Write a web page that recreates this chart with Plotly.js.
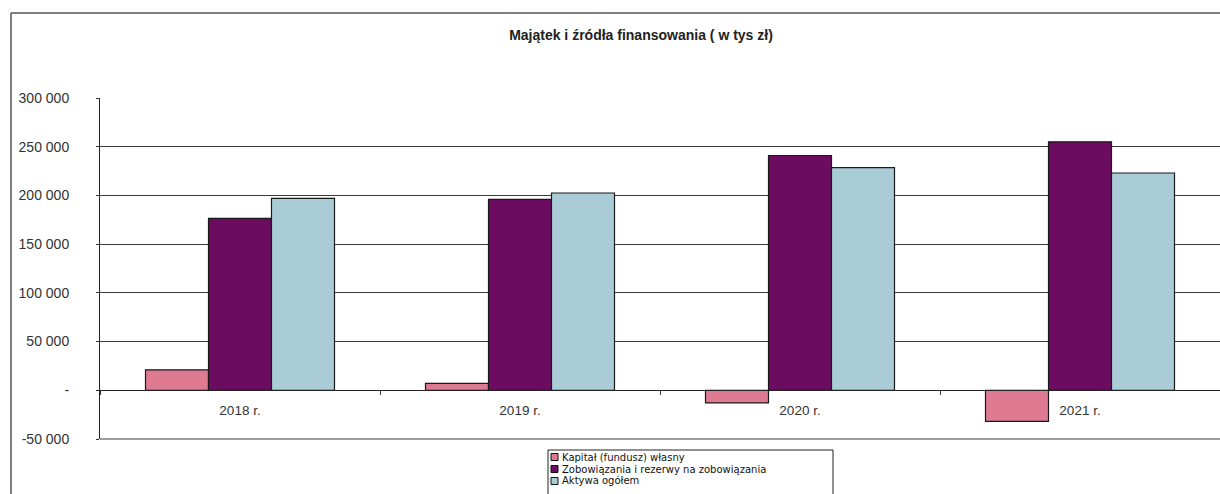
<!DOCTYPE html>
<html>
<head>
<meta charset="utf-8">
<script src="https://cdn.plot.ly/plotly-3.0.1.min.js"></script>
<style>
  html, body { margin: 0; padding: 0; background: #ffffff; }
  #chart { width: 1220px; height: 494px; }
</style>
</head>
<body>
<div id="chart"></div>
<script>
// ---- data ----
var categories = ["2018 r.", "2019 r.", "2020 r.", "2021 r."];
var kapitalWlasny = [21000, 7000, -13000, -32000];
var zobowiazania = [176500, 196000, 241000, 255000];
var aktywaOgolem = [197000, 202500, 228500, 223000];

var seriesNames = ["Kapitał (fundusz) własny", "Zobowiązania i rezerwy na zobowiązania", "Aktywa ogółem"];
var yTickValues = [-50000, 0, 50000, 100000, 150000, 200000, 250000, 300000];
var yTickLabels = ["-50 000", "-", "50 000", "100 000", "150 000", "200 000", "250 000", "300 000"];
var chartTitle = "Majątek i źródła finansowania ( w tys zł)";

// ---- geometry & styles ----
var W = 1220, H = 494;
var M = { l: 100, r: 0, t: 98, b: 55 };
var plotW = W - M.l - M.r, plotH = H - M.t - M.b;
function px2x(px) { return (px - M.l) / plotW; }
function px2y(py) { return (H - M.b - py) / plotH; }

var colors = ["#df7a93", "#6c0c60", "#a9ccd7"];
var yRange = [-50000, 300000];
var zeroPos = (0 - yRange[0]) / (yRange[1] - yRange[0]);
var fontFam = "Arial, 'Liberation Sans', Helvetica, sans-serif";
var legendFam = "'DejaVu Sans', Arial, sans-serif";

var seriesValues = [kapitalWlasny, zobowiazania, aktywaOgolem];
var traces = seriesValues.map(function (vals, i) {
  return {
    type: "bar",
    name: seriesNames[i],
    x: categories,
    y: vals,
    marker: { color: colors[i], line: { color: "#1a1a1a", width: 1.2 } },
    hoverinfo: "x+y+name",
    showlegend: false
  };
});

// compact legend drawn as box + swatches + labels
var legendBox = { left: 548, top: 450, right: 833, bottom: 520 };
var legendRows = [457, 469, 481];
var shapes = [
  { type: "line", xref: "paper", yref: "paper",
    x0: px2x(11), x1: px2x(W + 20), y0: px2y(13), y1: px2y(13),
    line: { color: "#555555", width: 1.5 } },
  { type: "line", xref: "paper", yref: "paper",
    x0: px2x(11), x1: px2x(11), y0: px2y(13), y1: px2y(H + 20),
    line: { color: "#555555", width: 1.5 } },
  { type: "rect", xref: "paper", yref: "paper",
    x0: px2x(legendBox.left), x1: px2x(legendBox.right),
    y0: px2y(legendBox.bottom), y1: px2y(legendBox.top),
    line: { color: "#222222", width: 1 }, fillcolor: "#ffffff" },
  { type: "line", xref: "paper", yref: "paper",
    x0: 0, x1: 1, y0: 0, y1: 0,
    line: { color: "#3a3a3a", width: 1 } }
];
var annotations = [];
legendRows.forEach(function (cy, i) {
  shapes.push({ type: "rect", xref: "paper", yref: "paper",
    x0: px2x(551), x1: px2x(558), y0: px2y(cy + 3.5), y1: px2y(cy - 3.5),
    line: { color: "#111111", width: 1 }, fillcolor: colors[i] });
  annotations.push({ xref: "paper", yref: "paper",
    x: px2x(561), y: px2y(cy), xanchor: "left", yanchor: "middle",
    text: seriesNames[i], showarrow: false, borderpad: 0,
    font: { family: legendFam, size: 10, color: "#111111" } });
});

var layout = {
  width: W,
  height: H,
  margin: { l: M.l, r: M.r, t: M.t, b: M.b, autoexpand: false },
  paper_bgcolor: "#ffffff",
  plot_bgcolor: "#ffffff",
  font: { family: fontFam, size: 13, color: "#333333" },
  barmode: "group",
  bargap: 0.325,
  bargroupgap: 0,
  showlegend: false,
  title: {
    text: "<b>" + chartTitle + "</b>",
    font: { family: fontFam, size: 14, color: "#222222" },
    x: px2x(641), xref: "paper", xanchor: "center",
    y: 1 - 35 / H, yref: "container", yanchor: "middle"
  },
  xaxis: {
    type: "category",
    range: [-0.5, 3.5],
    anchor: "free",
    position: zeroPos,
    showline: true,
    linecolor: "#222222",
    linewidth: 1,
    showgrid: false,
    zeroline: false,
    ticks: "outside",
    tickson: "boundaries",
    ticklen: 4,
    tickcolor: "#333333",
    tickfont: { family: fontFam, size: 13.5, color: "#333333" },
    ticklabelstandoff: 8,
    fixedrange: true
  },
  yaxis: {
    range: yRange,
    tickmode: "array",
    tickvals: yTickValues,
    ticktext: yTickLabels,
    showline: true,
    linecolor: "#222222",
    linewidth: 1,
    showgrid: true,
    gridcolor: "#3a3a3a",
    gridwidth: 1,
    zeroline: true,
    zerolinecolor: "#222222",
    zerolinewidth: 1,
    ticks: "outside",
    ticklen: 3,
    tickcolor: "#333333",
    tickfont: { family: fontFam, size: 14, color: "#333333" },
    ticklabelstandoff: 24,
    fixedrange: true
  },
  shapes: shapes,
  annotations: annotations
};

Plotly.newPlot("chart", traces, layout, { displayModeBar: false, responsive: false });
</script>
</body>
</html>
